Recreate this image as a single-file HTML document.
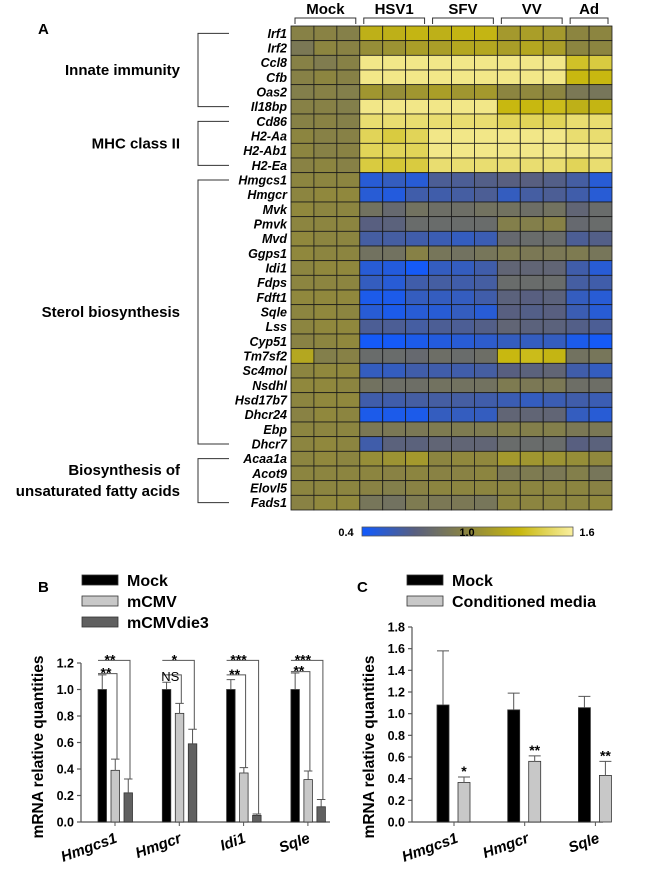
<!DOCTYPE html>
<html><head><meta charset="utf-8">
<style>
html,body{margin:0;padding:0;background:#fff;}
svg{display:block;font-family:"Liberation Sans",Arial,sans-serif;}
</style></head>
<body>
<svg id="fig" width="654" height="872" viewBox="0 0 654 872" xmlns="http://www.w3.org/2000/svg">
<text x="38" y="34" font-size="15" font-weight="bold">A</text>
<text x="38" y="592" font-size="15" font-weight="bold">B</text>
<text x="357" y="592" font-size="15" font-weight="bold">C</text>
<g id="heat"></g>
<g id="barB"></g>
<g id="barC"></g>
</svg>
<script>
const NS="http://www.w3.org/2000/svg";
function mk(p,tag,a,txt){const e=document.createElementNS(NS,tag);for(const k in a)e.setAttribute(k,a[k]);if(txt!==undefined)e.textContent=txt;p.appendChild(e);return e;}

// ---------- Heatmap data ----------
const genes=["Irf1","Irf2","Ccl8","Cfb","Oas2","Il18bp","Cd86","H2-Aa","H2-Ab1","H2-Ea","Hmgcs1","Hmgcr","Mvk","Pmvk","Mvd","Ggps1","Idi1","Fdps","Fdft1","Sqle","Lss","Cyp51","Tm7sf2","Sc4mol","Nsdhl","Hsd17b7","Dhcr24","Ebp","Dhcr7","Acaa1a","Acot9","Elovl5","Fads1"];
const conditions=["Mock","HSV1","SFV","VV","Ad"];
const replicates=[3,3,3,3,2];
const heatValues=[
[0.97,0.98,0.96,1.25,1.25,1.28,1.25,1.28,1.28,1.12,1.15,1.12,1.0,1.0],
[0.9,1.0,0.98,1.05,1.08,1.15,1.15,1.2,1.2,1.15,1.2,1.15,1.0,1.0],
[0.97,0.93,0.97,1.55,1.55,1.55,1.55,1.55,1.55,1.55,1.55,1.55,1.35,1.4],
[0.97,1.0,0.97,1.55,1.55,1.55,1.55,1.55,1.55,1.55,1.55,1.55,1.3,1.3],
[0.95,0.97,0.95,1.1,1.05,1.1,1.15,1.1,1.12,1.0,1.02,1.0,0.9,0.88],
[0.97,0.97,0.95,1.55,1.55,1.55,1.55,1.55,1.55,1.3,1.3,1.32,1.25,1.28],
[0.97,0.98,0.96,1.5,1.5,1.5,1.5,1.5,1.5,1.45,1.45,1.45,1.5,1.5],
[1.0,0.97,0.97,1.45,1.4,1.45,1.55,1.55,1.55,1.55,1.55,1.55,1.5,1.5],
[1.0,0.97,0.98,1.45,1.45,1.45,1.55,1.55,1.55,1.55,1.55,1.55,1.55,1.55],
[0.98,1.0,0.97,1.4,1.38,1.4,1.5,1.5,1.5,1.5,1.5,1.5,1.45,1.5],
[1.0,1.0,1.0,0.5,0.55,0.5,0.65,0.65,0.68,0.7,0.7,0.68,0.62,0.5],
[1.0,1.02,1.02,0.5,0.48,0.6,0.6,0.62,0.65,0.55,0.62,0.65,0.6,0.5],
[1.02,1.0,1.0,0.85,0.78,0.85,0.82,0.82,0.85,0.85,0.82,0.85,0.75,0.8],
[1.0,1.0,1.0,0.7,0.72,0.8,0.8,0.8,0.8,0.95,0.95,0.97,0.78,0.8],
[1.02,1.0,1.0,0.62,0.62,0.6,0.58,0.55,0.58,0.78,0.8,0.8,0.65,0.68],
[1.02,1.0,1.0,0.85,0.85,0.97,0.88,0.85,0.88,0.92,0.9,0.9,0.92,0.88],
[1.0,1.02,1.02,0.5,0.48,0.42,0.55,0.55,0.6,0.75,0.75,0.75,0.6,0.5],
[1.0,1.0,1.0,0.55,0.5,0.6,0.62,0.6,0.62,0.8,0.8,0.8,0.62,0.6],
[1.02,1.02,1.02,0.45,0.45,0.55,0.55,0.55,0.6,0.72,0.7,0.72,0.55,0.5],
[1.0,1.02,1.0,0.5,0.45,0.5,0.5,0.55,0.5,0.7,0.68,0.7,0.58,0.5],
[1.0,1.02,1.02,0.65,0.65,0.62,0.65,0.65,0.68,0.75,0.72,0.72,0.68,0.65],
[0.98,1.0,1.02,0.42,0.42,0.45,0.48,0.5,0.52,0.55,0.55,0.55,0.45,0.42],
[1.2,0.95,0.97,0.8,0.8,0.78,0.82,0.8,0.82,1.3,1.32,1.28,0.85,0.88],
[1.0,1.02,1.02,0.55,0.55,0.6,0.6,0.6,0.62,0.7,0.72,0.75,0.6,0.55],
[1.02,1.02,1.0,0.85,0.82,0.82,0.85,0.85,0.85,0.92,0.9,0.9,0.82,0.82],
[1.0,1.02,1.02,0.6,0.6,0.62,0.62,0.62,0.6,0.58,0.55,0.58,0.6,0.58],
[0.98,1.02,1.0,0.45,0.45,0.45,0.55,0.55,0.55,0.75,0.75,0.75,0.55,0.5],
[1.0,1.0,1.0,0.9,0.9,0.9,0.92,0.92,0.92,0.95,0.95,0.95,0.9,0.9],
[1.0,1.02,1.0,0.6,0.72,0.72,0.75,0.75,0.75,0.8,0.8,0.8,0.7,0.72],
[1.0,1.02,1.0,1.05,1.08,1.12,1.0,1.02,1.02,1.12,1.1,1.08,1.05,1.02],
[1.0,1.0,1.0,1.0,0.98,1.0,0.98,0.98,1.0,0.9,0.92,0.9,0.95,0.88],
[1.0,1.0,1.0,0.98,0.95,0.98,1.0,1.0,1.0,1.0,1.0,1.0,1.0,0.98],
[0.98,1.02,1.02,0.88,0.85,0.92,0.9,0.9,0.88,1.0,1.0,1.0,1.0,1.02]
];
const groupNames=[["Innate immunity"],["MHC class II"],["Sterol biosynthesis"],["Biosynthesis of","unsaturated fatty acids"]];
const groupStart=[0,6,10,29];
const groupEnd=[5,9,28,32];
const scaleTicks=["0.4","1.0","1.6"];

const stops=[[0.4,[16,90,255]],[0.7,[88,95,128]],[1.0,[140,133,64]],[1.3,[200,184,16]],[1.6,[250,240,160]]];
function color(v){v=Math.max(0.4,Math.min(1.6,v));for(let i=0;i<stops.length-1;i++){const a=stops[i],b=stops[i+1];if(v<=b[0]){const t=(v-a[0])/(b[0]-a[0]);const c=a[1].map((x,j)=>Math.round(x+(b[1][j]-x)*t));return `rgb(${c})`;}}return "rgb(250,240,160)";}

(function(){
const g=document.getElementById('heat');
const X0=291,X1=612,Y0=26,Y1=510;
const nc=heatValues[0].length, cw=(X1-X0)/nc, rh=(Y1-Y0)/genes.length;
const cx=c=>X0+c*cw, ry=r=>Y0+r*rh;
heatValues.forEach((row,r)=>row.forEach((v,c)=>{
  const e=mk(g,'rect',{x:cx(c),y:ry(r),width:cw,height:rh,fill:color(v),stroke:'#1a1a1a','stroke-width':0.8});
  
  
}));
genes.forEach((gn,r)=>{
  const t=mk(g,'text',{x:287,y:ry(r)+rh/2+4.5,'text-anchor':'end','font-size':12.5,'font-weight':'bold','font-style':'italic'},gn);
  
  
});
let c0=0;
conditions.forEach((cn,i)=>{
  const a=cx(c0)+4,b=cx(c0+replicates[i])-4;c0+=replicates[i];
  const p=mk(g,'path',{d:`M${a} 24 V18 H${b} V24`,fill:'none',stroke:'#333','stroke-width':1});
  
  
  const t=mk(g,'text',{x:(a+b)/2,y:14,'text-anchor':'middle','font-size':15,'font-weight':'bold'},cn);
  
  
});
groupNames.forEach((lines,i)=>{
  const ya=ry(groupStart[i])+rh/2, yb=ry(groupEnd[i])+rh/2;
  const p=mk(g,'path',{d:`M229 ${ya} H198 V${yb} H229`,fill:'none',stroke:'#333','stroke-width':1});
  
  
  const mid=(ya+yb)/2;
  lines.forEach((ln,k)=>{
    const t=mk(g,'text',{x:180,y:mid+5+(k-(lines.length-1)/2)*21,'text-anchor':'end','font-size':15,'font-weight':'bold'},ln);
    
    
  });
});
// colour bar
const defs=mk(g,'defs',{});const lg=mk(defs,'linearGradient',{id:'cb',x1:0,x2:1,y1:0,y2:0});
stops.forEach(s=>mk(lg,'stop',{offset:((s[0]-0.4)/1.2),'stop-color':`rgb(${s[1]})`}));
const cb=mk(g,'rect',{x:362,y:527,width:211,height:9,fill:'url(#cb)',stroke:'#555','stroke-width':0.8});


const tx=[346,467,587];
scaleTicks.forEach((s,i)=>{const t=mk(g,'text',{x:tx[i],y:536,'text-anchor':'middle','font-size':11,'font-weight':'bold'},s);
  
  });
})();

// ---------- Panel B ----------
const bGenes=["Hmgcs1","Hmgcr","Idi1","Sqle"];
const bSeries=["Mock","mCMV","mCMVdie3"];
const bMock=[1.0,1.0,1.0,1.0];
const bMcmv=[0.39,0.82,0.37,0.32];
const bDie3=[0.22,0.59,0.05,0.115];
const bMockErr=[0.11,0.055,0.075,0.125];
const bMcmvErr=[0.085,0.075,0.04,0.065];
const bDie3Err=[0.105,0.11,0.01,0.055];
const bTicks=[0,0.2,0.4,0.6,0.8,1.0,1.2];
const bSig1=["**","NS","**","**"];
const bSig2=["**","*","***","***"];
// ---------- Panel C ----------
const cGenes=["Hmgcs1","Hmgcr","Sqle"];
const cSeries=["Mock","Conditioned media"];
const cMock=[1.08,1.035,1.055];
const cCond=[0.365,0.56,0.43];
const cMockErr=[0.5,0.155,0.105];
const cCondErr=[0.05,0.05,0.13];
const cTicks=[0,0.2,0.4,0.6,0.8,1.0,1.2,1.4,1.6,1.8];
const cSig=["*","**","**"];

function axis(g,ax,base,top,maxv,ticks,right,name){
  const y=v=>base-(v/maxv)*(base-top);
  mk(g,'line',{x1:ax,x2:ax,y1:base,y2:top,stroke:'#555','stroke-width':1.2});
  mk(g,'line',{x1:ax,x2:right,y1:base,y2:base,stroke:'#555','stroke-width':1.2});
  ticks.forEach(t=>{mk(g,'line',{x1:ax-4,x2:ax,y1:y(t),y2:y(t),stroke:'#555','stroke-width':1.2});
    const e=mk(g,'text',{x:ax-7,y:y(t)+4.5,'text-anchor':'end','font-size':12.5,'font-weight':'bold'},t.toFixed(1));
    
    });
  const tt=mk(g,'text',{transform:`translate(${ax-38},${base-75}) rotate(-90)`,'text-anchor':'middle','font-size':15.5,'font-weight':'bold'},'mRNA relative quantities');
  
  
  return y;
}
function bar(g,x,w,v,err,y,fill,nm){
  const r=mk(g,'rect',{x:x,y:y(v),width:w,height:y(0)-y(v),fill:fill,stroke:'#333','stroke-width':0.8});
  
  
  mk(g,'path',{d:`M${x+w/2} ${y(v)} V${y(v+err)} M${x} ${y(v+err)} H${x+w}`,stroke:'#555','stroke-width':1,fill:'none'});
}
function legend(g,x,y0,names,fills){
  names.forEach((n,i)=>{const yy=y0+i*21;
    const r=mk(g,'rect',{x:x,y:yy,width:36,height:10,fill:fills[i],stroke:'#333','stroke-width':0.8});
    
    
    const t=mk(g,'text',{x:x+45,y:yy+11,'font-size':16,'font-weight':'bold'},n);
    
    });
}
(function(){
const g=document.getElementById('barB');
const y=axis(g,81,822,663,1.2,bTicks,330,'b');
const fills=['#000','#c8c8c8','#606060'];
legend(g,82,575,bSeries,fills);
const gx=i=>98+i*64.3;
bGenes.forEach((gn,i)=>{
  const x=gx(i);
  bar(g,x,8.5,bMock[i],bMockErr[i],y,fills[0],'bar-mock-'+gn.toLowerCase());
  bar(g,x+13,8.5,bMcmv[i],bMcmvErr[i],y,fills[1],'bar-mcmv-'+gn.toLowerCase());
  bar(g,x+26,8.5,bDie3[i],bDie3Err[i],y,fills[2],'bar-mcmvdie3-'+gn.toLowerCase());
  const y1=y(Math.max(bMock[i]+bMockErr[i],1.1)+0.01), y2=y(1.22);
  mk(g,'path',{d:`M${x} ${y1} H${x+19} V${y(bMcmv[i]+bMcmvErr[i])}`,stroke:'#555','stroke-width':1,fill:'none'});
  mk(g,'path',{d:`M${x} ${y2} H${x+32} V${y(bDie3[i]+bDie3Err[i])}`,stroke:'#555','stroke-width':1,fill:'none'});
  const s1=mk(g,'text',{x:x+8,y:y1+4,'text-anchor':'middle','font-size':bSig1[i]=='NS'?13:14,'font-weight':bSig1[i]=='NS'?'normal':'bold'},bSig1[i]);
  if(bSig1[i]=='NS')s1.setAttribute('y',y1+6);
  
  
  const s2=mk(g,'text',{x:x+12,y:y2+4,'text-anchor':'middle','font-size':14,'font-weight':'bold'},bSig2[i]);
  
  
  mk(g,'line',{x1:x+17,x2:x+17,y1:822,y2:826,stroke:'#555'});
  const t=mk(g,'text',{transform:`translate(${x+20},${842}) rotate(-20)`,'text-anchor':'end','font-size':15,'font-weight':'bold','font-style':'italic'},gn);
  
  
});
})();
(function(){
const g=document.getElementById('barC');
const y=axis(g,412,822,627,1.8,cTicks,603,'c');
const fills=['#000','#c8c8c8'];
legend(g,407,575,cSeries,fills);
const gx=i=>437+i*70.7;
cGenes.forEach((gn,i)=>{
  const x=gx(i);
  bar(g,x,12,cMock[i],cMockErr[i],y,fills[0],'bar-mock-c-'+gn.toLowerCase());
  bar(g,x+21,12,cCond[i],cCondErr[i],y,fills[1],'bar-conditioned-'+gn.toLowerCase());
  const s=mk(g,'text',{x:x+27,y:y(cCond[i]+cCondErr[i])-1,'text-anchor':'middle','font-size':14,'font-weight':'bold'},cSig[i]);
  
  
  mk(g,'line',{x1:x+17,x2:x+17,y1:822,y2:826,stroke:'#555'});
  const t=mk(g,'text',{transform:`translate(${x+22},${842}) rotate(-20)`,'text-anchor':'end','font-size':15,'font-weight':'bold','font-style':'italic'},gn);
  
  
});
})();
</script>
</body></html>
